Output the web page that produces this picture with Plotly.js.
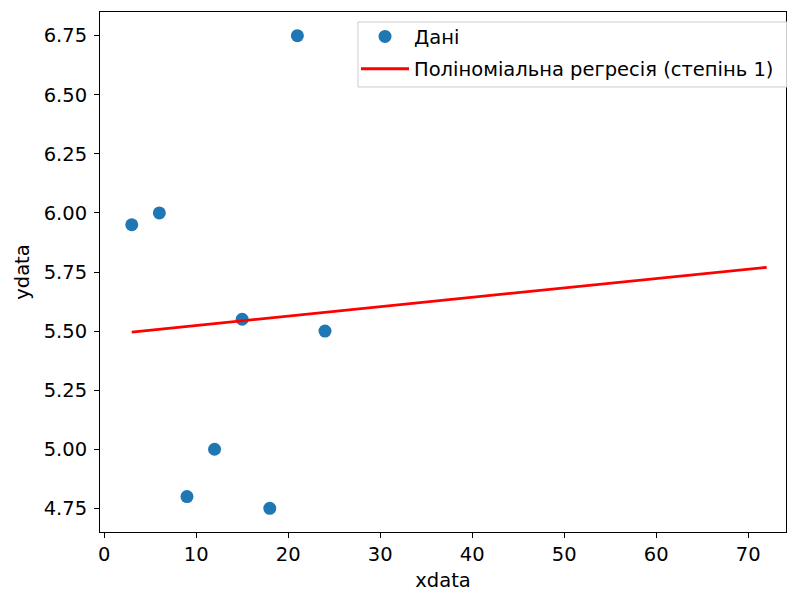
<!DOCTYPE html>
<html>
<head>
<meta charset="utf-8">
<script src="https://cdn.plot.ly/plotly-3.0.1.min.js"></script>
<style>html,body{margin:0;padding:0;background:#fff;}#chart{width:787px;height:592px;}</style>
</head>
<body>
<div id="chart"></div>
<script>
// Data points
const xdata = [3, 6, 9, 12, 15, 18, 21, 24];
const ydata = [5.95, 6.0, 4.8, 5.0, 5.55, 4.75, 6.75, 5.5];
// Regression line (degree 1)
const lineX = [3, 72];
const lineY = [5.496, 5.770];

const dataLabel = 'Дані';
const lineLabel = 'Поліноміальна регресія (степінь 1)';

const font = {family: 'DejaVu Sans, sans-serif', size: 19.5, color: '#000'};

const traces = [
  {x: xdata, y: ydata, mode: 'markers', type: 'scatter', name: dataLabel, legendgroup: 'a',
   marker: {color: '#1f77b4', size: 13}},
  {x: lineX, y: lineY, mode: 'lines', type: 'scatter', name: lineLabel, legendgroup: 'b',
   line: {color: '#ff0000', width: 2.8}}
];

const axisCommon = {
  showgrid: false, zeroline: false, showline: true, mirror: true,
  linecolor: '#000', linewidth: 1, ticks: 'outside', ticklen: 5, tickwidth: 1,
  tickcolor: '#000', tickfont: font
};

const layout = {
  width: 787, height: 592,
  margin: {l: 100, r: 1, t: 12, b: 60},
  paper_bgcolor: '#fff', plot_bgcolor: '#fff',
  font: font,
  showlegend: true,
  legend: {x: 0.3732, y: 0.990, xanchor: 'left', yanchor: 'top',
    bgcolor: 'rgba(0,0,0,0)', borderwidth: 0,
    font: font, tracegroupgap: 4, itemwidth: 48},
  shapes: [{type: 'rect', xref: 'paper', yref: 'paper', x0: 0.3761, x1: 1.03, y0: 0.8558, y1: 0.9808,
    line: {color: '#cccccc', width: 1}, fillcolor: 'rgba(255,255,255,0.8)', layer: 'above'}],
  xaxis: Object.assign({}, axisCommon, {range: [-0.45, 74.1], dtick: 10, tick0: 0,
    title: {text: 'xdata', font: font, standoff: 10}}),
  yaxis: Object.assign({}, axisCommon, {range: [4.65, 6.85], dtick: 0.25, tick0: 4.75,
    tickformat: '.2f', ticklabelstandoff: 3, title: {text: 'ydata', font: font, standoff: 8}})
};

Plotly.newPlot('chart', traces, layout, {displayModeBar: false, staticPlot: true});
</script>
</body>
</html>
